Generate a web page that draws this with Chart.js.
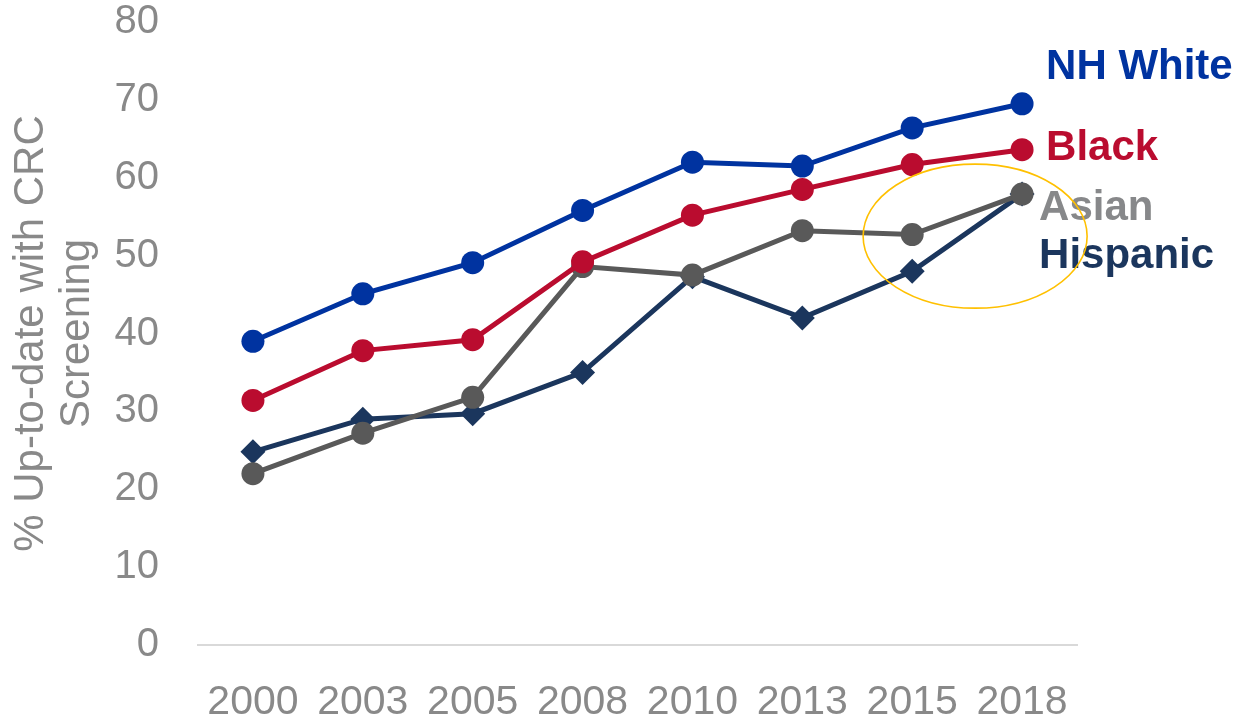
<!DOCTYPE html>
<html>
<head>
<meta charset="utf-8">
<script src="https://cdn.jsdelivr.net/npm/chart.js@4/dist/chart.umd.min.js"></script>
<style>
  html, body { margin: 0; padding: 0; background: #ffffff; }
  #wrap { width: 1240px; height: 718px; position: relative; }
</style>
</head>
<body>
<div id="wrap"><canvas id="c" width="1240" height="718"></canvas></div>
<script>
const years = ["2000", "2003", "2005", "2008", "2010", "2013", "2015", "2018"];
const nhWhite = [39.0, 45.1, 49.1, 55.8, 62.0, 61.5, 66.4, 69.5];
const black = [31.4, 37.8, 39.2, 49.2, 55.2, 58.5, 61.7, 63.6];
const asian = [22.0, 27.2, 31.8, 48.6, 47.5, 53.2, 52.7, 57.9];
const hispanic = [24.8, 29.0, 29.7, 35.0, 47.3, 42.0, 48.0, 57.9];
const yTicks = [0, 10, 20, 30, 40, 50, 60, 70, 80];
const seriesNames = ["NH White", "Black", "Asian", "Hispanic"];

const colWhite = "#0033A0";
const colBlack = "#BA0C2F";
const colAsian = "#595959";
const colHisp = "#1B365D";
const gray = "#898989";

const endLabels = {
  id: "endLabels",
  afterDatasetsDraw(chart) {
    const ctx = chart.ctx;
    const xs = chart.scales.x, ys = chart.scales.y;
    const lastX = xs.getPixelForValue(years.length - 1);
    const items = [
      { text: seriesNames[0], color: colWhite, dx: 24, v: 74.2 },
      { text: seriesNames[1], color: colBlack, dx: 24, v: 63.8 },
      { text: seriesNames[2], color: "#87888A", dx: 17, v: 56.1 },
      { text: seriesNames[3], color: colHisp, dx: 17, v: 49.9 }
    ];
    ctx.save();
    ctx.font = "bold 42px 'Liberation Sans', Arial, sans-serif";
    ctx.textAlign = "left";
    ctx.textBaseline = "middle";
    items.forEach(it => {
      ctx.fillStyle = it.color;
      ctx.fillText(it.text, lastX + it.dx, ys.getPixelForValue(it.v));
    });
    // highlight ellipse
    const cx = (xs.getPixelForValue(6) + xs.getPixelForValue(7)) / 2 + 8;
    const cy = ys.getPixelForValue(52.5);
    ctx.beginPath();
    ctx.ellipse(cx, cy, 112, 72, 0, 0, Math.PI * 2);
    ctx.strokeStyle = "#FFC000";
    ctx.lineWidth = 1.6;
    ctx.stroke();
    ctx.restore();
  }
};

function ds(label, data, color, style, r) {
  return {
    label: label,
    data: data,
    borderColor: color,
    backgroundColor: color,
    pointBackgroundColor: color,
    pointBorderColor: color,
    borderWidth: 5,
    pointRadius: r,
    pointHoverRadius: r,
    pointBorderWidth: 0,
    pointStyle: style,
    tension: 0,
    fill: false
  };
}

new Chart(document.getElementById("c"), {
  type: "line",
  data: {
    labels: years,
    datasets: [
      ds(seriesNames[0], nhWhite, colWhite, "circle", 11.5),
      ds(seriesNames[1], black, colBlack, "circle", 11.5),
      ds(seriesNames[2], asian, colAsian, "circle", 11.5),
      ds(seriesNames[3], hispanic, colHisp, "rectRot", 12.5)
    ]
  },
  options: {
    responsive: false,
    animation: false,
    devicePixelRatio: 1,
    layout: { padding: { left: 0, right: 163, top: 22, bottom: 0 } },
    plugins: {
      legend: { display: false },
      tooltip: { enabled: false },
      title: { display: false }
    },
    scales: {
      x: {
        offset: true,
        grid: { display: false },
        border: { display: true, color: "#D9D9D9", width: 2 },
        ticks: {
          color: gray,
          font: { family: "'Liberation Sans', Arial, sans-serif", size: 41 },
          padding: 25,
          maxRotation: 0,
          autoSkip: false
        },
        afterFit(scale) { scale.height = 73; scale.paddingLeft = 0; scale.paddingRight = 0; }
      },
      y: {
        min: 0,
        max: 80,
        afterBuildTicks(scale) { scale.ticks = yTicks.map(v => ({ value: v })); },
        grid: { display: false },
        border: { display: false },
        ticks: {
          color: gray,
          font: { family: "'Liberation Sans', Arial, sans-serif", size: 40 },
          padding: 31
        },
        title: {
          display: true,
          text: ["% Up-to-date with CRC", "Screening"],
          color: gray,
          font: { family: "'Liberation Sans', Arial, sans-serif", size: 42, lineHeight: 1.1 },
          padding: { top: 8, bottom: 0 }
        },
        afterFit(scale) { scale.width = 198; scale.paddingTop = 0; scale.paddingBottom = 0; }
      }
    }
  },
  plugins: [endLabels]
});
</script>
</body>
</html>
